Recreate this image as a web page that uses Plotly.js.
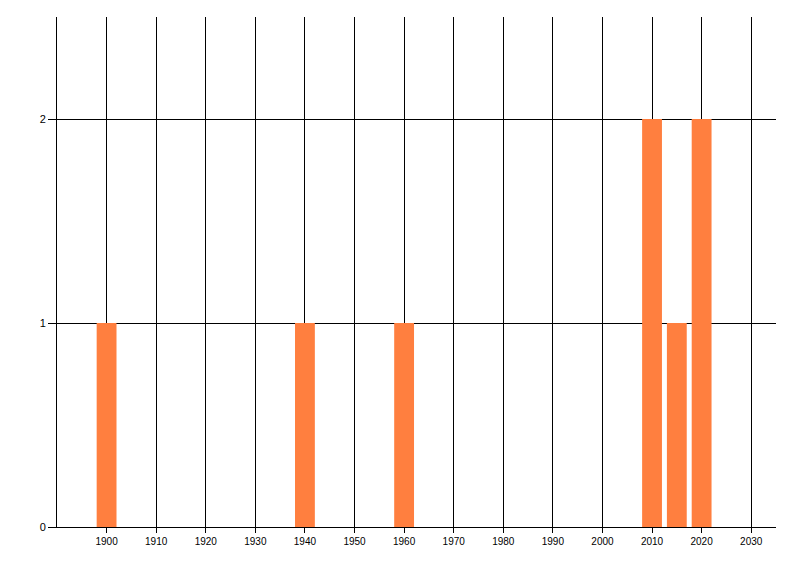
<!DOCTYPE html>
<html>
<head>
<meta charset="utf-8">
<script src="https://cdn.plot.ly/plotly-3.0.1.min.js"></script>
<style>html,body{margin:0;padding:0;background:#fff;}#chart{width:800px;height:576px;}</style>
</head>
<body>
<div id="chart"></div>
<script>
const years = [1900, 1940, 1960, 2010, 2015, 2020];
const counts = [1, 1, 1, 2, 1, 2];
const xTicks = [1900, 1910, 1920, 1930, 1940, 1950, 1960, 1970, 1980, 1990, 2000, 2010, 2020, 2030];
const yTicks = [0, 1, 2];

const trace = {
  type: 'bar',
  x: years,
  y: counts,
  width: 4,
  marker: {color: 'rgb(255,127,63)', line: {width: 0}},
  hoverinfo: 'x+y'
};

const layout = {
  width: 800, height: 576,
  margin: {l: 57, r: 24, t: 17, b: 49, pad: 0},
  paper_bgcolor: '#fff', plot_bgcolor: '#fff',
  showlegend: false,
  font: {family: 'Liberation Sans, Arial, sans-serif', size: 10, color: '#000'},
  xaxis: {
    range: [1890, 2035],
    tickmode: 'array', tickvals: xTicks, ticktext: xTicks.map(String),
    showgrid: true, gridcolor: '#000', gridwidth: 1,
    showline: true, linecolor: '#000', linewidth: 1,
    zeroline: false,
    ticks: 'outside', ticklen: 5, tickcolor: '#000', tickwidth: 1,
    tickfont: {size: 10, color: '#000'}
  },
  yaxis: {
    range: [0, 2.5],
    tickmode: 'array', tickvals: yTicks, ticktext: yTicks.map(String),
    showgrid: true, gridcolor: '#000', gridwidth: 1,
    showline: true, linecolor: '#000', linewidth: 1,
    zeroline: false,
    ticks: 'outside', ticklen: 8, tickcolor: '#000', tickwidth: 1,
    tickfont: {size: 11, color: '#000'}
  }
};

Plotly.newPlot('chart', [trace], layout, {displayModeBar: false, staticPlot: true});
</script>
</body>
</html>
